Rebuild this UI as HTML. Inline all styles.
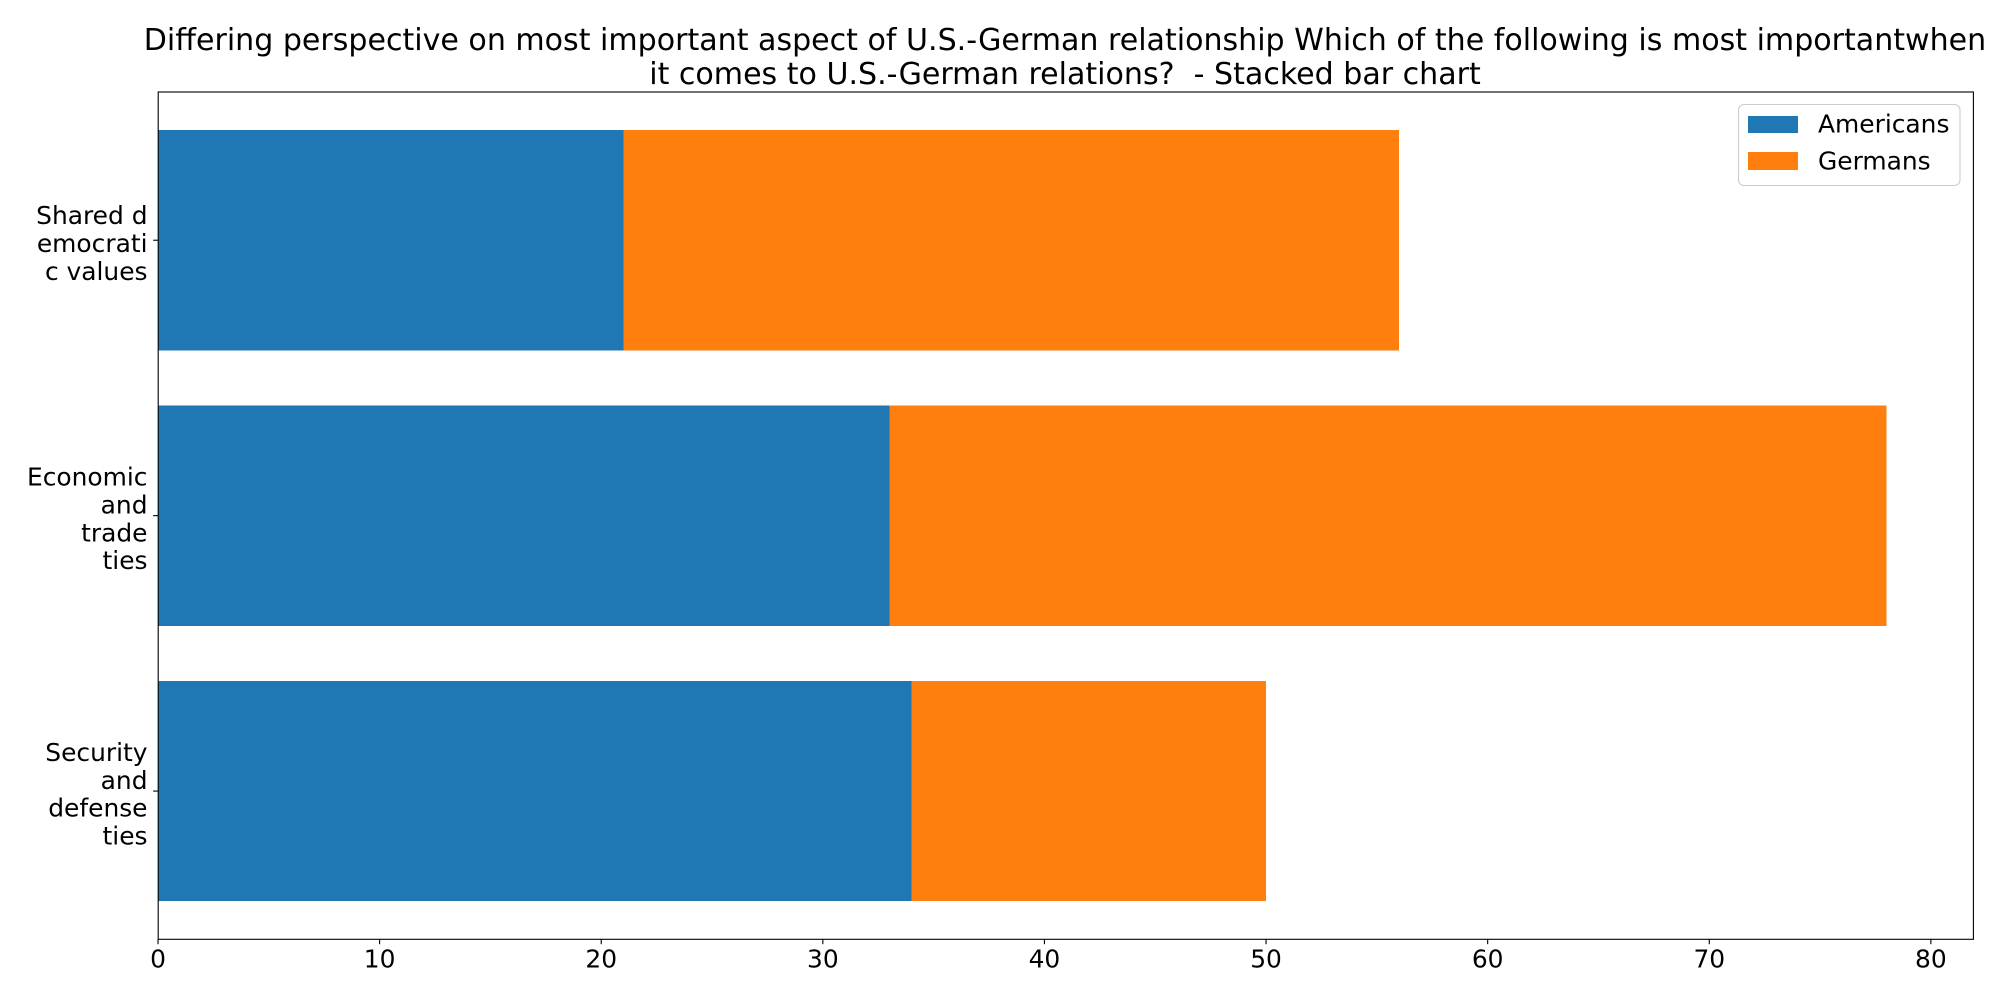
<!DOCTYPE html>
<html>
<head>
<meta charset="utf-8">
<title>Differing perspective on most important aspect of U.S.-German relationship</title>
<style>
html,body{margin:0;padding:0;background:#fff;}
svg{display:block;}
text{font-family:"DejaVu Sans","Liberation Sans",sans-serif;fill:#000;white-space:pre;}
</style>
</head>
<body>
<svg id="chart" xmlns="http://www.w3.org/2000/svg" width="2000" height="1000" viewBox="0 0 2000 1000">
  <rect x="0" y="0" width="2000" height="1000" fill="#fff"/>
  <g id="bars" shape-rendering="crispEdges"></g>
  <g id="y-axis"></g>
  <g id="x-axis"></g>
  <rect x="158.2" y="92" width="1815.2" height="847.3" fill="none" stroke="#000" stroke-width="1.1"/>
  <g font-size="30.05" text-anchor="middle">
    <text x="1065" y="50">Differing perspective on most important aspect of U.S.-German relationship Which of the following is most importantwhen</text>
    <text x="1065" y="84">it comes to U.S.-German relations?  - Stacked bar chart</text>
  </g>
  <g>
    <rect x="1738.5" y="104.5" width="221.5" height="81" rx="5.5" ry="5.5" fill="#fff" fill-opacity="0.8" stroke="#ccc" stroke-width="1.1"/>
    <rect x="1748" y="116" width="50" height="17" fill="#1f77b4"/>
    <text x="1818" y="132.7" font-size="24.9">Americans</text>
    <rect x="1748" y="152" width="50" height="18" fill="#ff7f0e"/>
    <text x="1818" y="169.3" font-size="24.9">Germans</text>
  </g>
</svg>
<script>
const categories = ["Security\nand\ndefense\nties", "Economic\nand\ntrade\nties", "Shared d\nemocrati\nc values"];
const americans = [34, 33, 21];
const germans = [16, 45, 35];
const xTicks = [0, 10, 20, 30, 40, 50, 60, 70, 80];

const NS = "http://www.w3.org/2000/svg";
const plot = { left: 158, right: 1973, top: 91.5, bottom: 939.8 };
const barHeight = 0.8;

function xMax() {
  let m = 0;
  for (let i = 0; i < categories.length; i++) m = Math.max(m, americans[i] + germans[i]);
  return m * 1.05;
}
function xScale(v) {
  return plot.left + v / xMax() * (plot.right - plot.left);
}
function yScale(v) {
  const span = categories.length - 1 + barHeight;
  const lo = -barHeight / 2 - span * 0.05;
  const hi = categories.length - 1 + barHeight / 2 + span * 0.05;
  return plot.bottom - (v - lo) / (hi - lo) * (plot.bottom - plot.top);
}
function make(tag, attrs, parent) {
  const el = document.createElementNS(NS, tag);
  for (const k in attrs) el.setAttribute(k, attrs[k]);
  parent.appendChild(el);
  return el;
}

const barsGroup = document.getElementById("bars");
const yGroup = document.getElementById("y-axis");
const xGroup = document.getElementById("x-axis");

categories.forEach(function (cat, i) {
  const top = yScale(i + barHeight / 2);
  const h = yScale(i - barHeight / 2) - top;
  const x0 = xScale(0);
  const x1 = xScale(americans[i]);
  const x2 = xScale(americans[i] + germans[i]);
  const a = make("rect", { x: x0, y: top, width: x1 - x0, height: h, fill: "#1f77b4" }, barsGroup);
  
  
  const g = make("rect", { x: x1, y: top, width: x2 - x1, height: h, fill: "#ff7f0e" }, barsGroup);
  
  

  const cy = yScale(i);
  const tick = make("line", { x1: plot.left - 4.9, x2: plot.left, y1: cy, y2: cy, stroke: "#000", "stroke-width": 1.1 }, yGroup);
  
  
  const lines = cat.split("\n");
  lines.forEach(function (line, k) {
    const t = make("text", { x: 147.5, y: cy + 11.7 + (k - (lines.length - 1) / 2) * 27.9, "font-size": 24.9, "text-anchor": "end" }, yGroup);
    t.textContent = line;
    
    
  });
});

xTicks.forEach(function (v) {
  const x = xScale(v);
  const tick = make("line", { x1: x, x2: x, y1: 939.3, y2: 944.2, stroke: "#000", "stroke-width": 1.1 }, xGroup);
  
  
  const t = make("text", { x: x, y: 967.7, "font-size": 24.9, "text-anchor": "middle" }, xGroup);
  t.textContent = String(v);
  
  
});
</script>
</body>
</html>
